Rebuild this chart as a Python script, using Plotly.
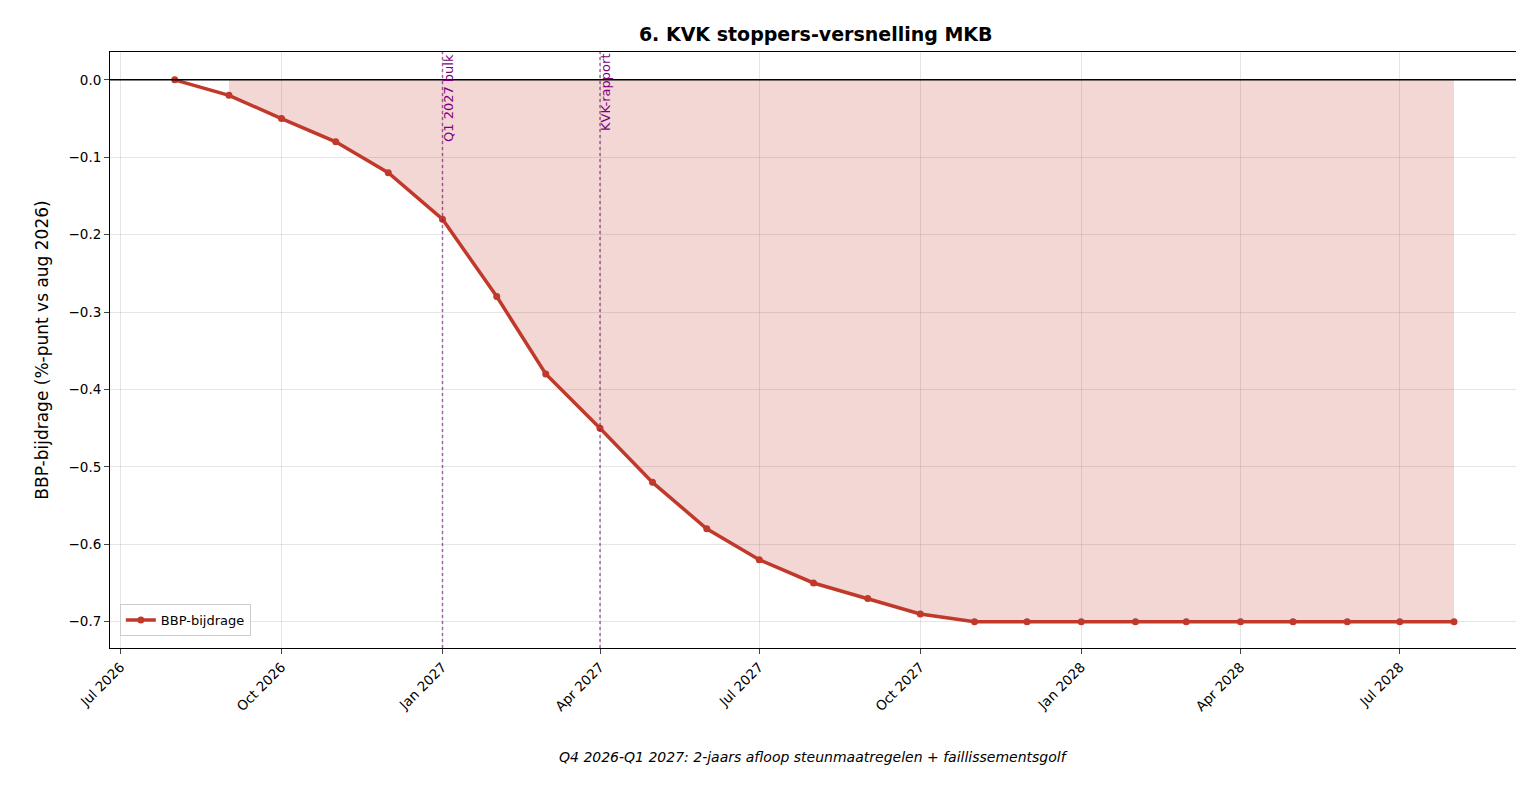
import pandas as pd
import plotly.graph_objects as go

dates = pd.date_range("2026-08-01", "2028-08-01", freq="MS")
bbp = [0.0, -0.02, -0.05, -0.08, -0.12, -0.18, -0.28, -0.38, -0.45, -0.52, -0.58,
       -0.62, -0.65, -0.67, -0.69, -0.70, -0.70, -0.70, -0.70, -0.70, -0.70,
       -0.70, -0.70, -0.70, -0.70]
events = ["2027-01-01", "2027-04-01"]
event_labels = ["Q1 2027 bulk", "KVK-rapport"]
tickvals = pd.date_range("2026-07-01", "2028-07-01", freq="3MS")
ticktext = [d.strftime("%b %Y") for d in tickvals]

red = "#c0392b"
fig = go.Figure()
# shaded area from Sep 2026 onwards
fig.add_trace(go.Scatter(x=list(dates[1:]) + list(dates[1:][::-1]),
                         y=bbp[1:] + [0] * len(bbp[1:]),
                         fill="toself", fillcolor="rgba(192,57,43,0.2)",
                         line=dict(width=0), showlegend=False, hoverinfo="skip"))
fig.add_trace(go.Scatter(x=dates, y=bbp, mode="lines+markers", name="BBP-bijdrage",
                         line=dict(color=red, width=3.5), marker=dict(size=7, color=red)))
fig.add_hline(y=0, line=dict(color="black", width=1.5))
for d, lab in zip(events, event_labels):
    fig.add_vline(x=d, line=dict(color="purple", width=1.5, dash="dot"), opacity=0.6)
    fig.add_annotation(x=d, y=1, yref="paper", yanchor="top", xanchor="left", text=lab,
                       textangle=-90, showarrow=False, font=dict(size=13, color="purple"),
                       xshift=-4)

fig.add_annotation(x=0.5, y=-0.2, xref="paper", yref="paper", showarrow=False,
                   text="<i>Q4 2026-Q1 2027: 2-jaars afloop steunmaatregelen + faillissementsgolf</i>",
                   font=dict(size=14, color="black"))

fig.update_layout(
    width=1524, height=791, plot_bgcolor="white", paper_bgcolor="white",
    font=dict(family="DejaVu Sans", size=14, color="black"),
    title=dict(text="<b>6. KVK stoppers-versnelling MKB</b>", x=0.53, y=0.975,
               font=dict(size=19), automargin=False),
    margin=dict(l=102, r=15, t=44, b=151, autoexpand=False),
    legend=dict(x=0.007, y=0.02, xanchor="left", yanchor="bottom", bordercolor="#cccccc",
                borderwidth=1, bgcolor="white", font=dict(size=13)),
)
fig.update_xaxes(range=["2026-06-25", "2028-09-06"], tickvals=tickvals, ticktext=ticktext,
                 tickangle=-45, showgrid=True, gridcolor="rgba(0,0,0,0.1)", showline=True,
                 linecolor="black", mirror=True, ticks="outside", zeroline=False,
                 automargin=False, tickfont=dict(size=13.5))
fig.update_yaxes(range=[-0.734, 0.036], dtick=0.1, tickformat=".1f",
                 title_text="BBP-bijdrage (%-punt vs aug 2026)", showgrid=True,
                 gridcolor="rgba(0,0,0,0.1)", showline=True, linecolor="black", mirror=True,
                 ticks="outside", zeroline=False, automargin=False, tickfont=dict(size=13.5))
fig.write_html("out.html")
